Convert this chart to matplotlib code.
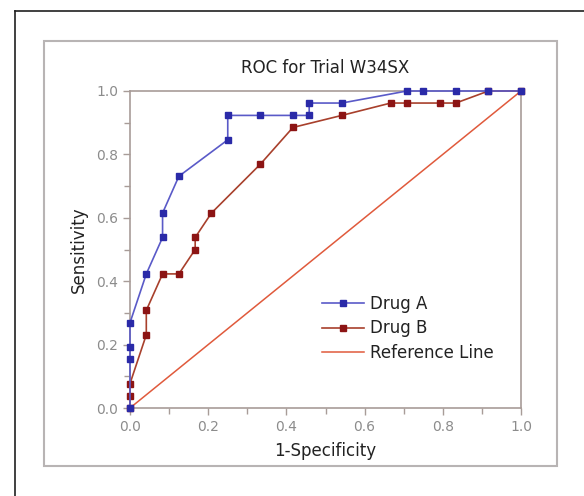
import matplotlib
matplotlib.use("Agg")
import matplotlib.pyplot as plt
from matplotlib.lines import Line2D
from matplotlib.patches import Rectangle

# ROC points (1-specificity, sensitivity)
drug_a_fpr = [0.0, 0.0, 0.0, 0.0, 0.0417, 0.0833, 0.0833, 0.125, 0.25, 0.25,
              0.3333, 0.4167, 0.4583, 0.4583, 0.5417, 0.7083, 0.75, 0.8333,
              0.9167, 1.0]
drug_a_tpr = [0.0, 0.154, 0.192, 0.269, 0.423, 0.538, 0.615, 0.731, 0.846,
              0.923, 0.923, 0.923, 0.923, 0.962, 0.962, 1.0, 1.0, 1.0, 1.0, 1.0]

drug_b_fpr = [0.0, 0.0, 0.0, 0.0417, 0.0417, 0.0833, 0.125, 0.1667, 0.1667,
              0.2083, 0.3333, 0.4167, 0.5417, 0.6667, 0.7083, 0.7917, 0.8333,
              0.9167, 1.0]
drug_b_tpr = [0.0, 0.038, 0.077, 0.231, 0.308, 0.423, 0.423, 0.5, 0.538,
              0.615, 0.769, 0.885, 0.923, 0.962, 0.962, 0.962, 0.962, 1.0, 1.0]

ref_x = [0.0, 1.0]
ref_y = [0.0, 1.0]

title = "ROC for Trial W34SX"
xlabel = "1-Specificity"
ylabel = "Sensitivity"
ticks = [0.0, 0.2, 0.4, 0.6, 0.8, 1.0]
minor_ticks = [0.1, 0.3, 0.5, 0.7, 0.9]

W, H = 584, 496
fig = plt.figure(figsize=(W / 100, H / 100), dpi=100)
fig.patch.set_facecolor("white")

# outer black frame (left and top only visible)
fig.add_artist(Line2D([14.5 / W, 14.5 / W], [0, 1 - 11 / H], color="#202020",
                      lw=1.2, transform=fig.transFigure))
fig.add_artist(Line2D([14.5 / W, 1.0], [1 - 11 / H, 1 - 11 / H], color="#202020",
                      lw=1.2, transform=fig.transFigure))

# inner grey frame
fig.add_artist(Rectangle((44 / W, 1 - 466 / H), (557 - 44) / W, (466 - 41) / H,
                         fill=False, edgecolor="#b8b4b4", lw=1.5,
                         transform=fig.transFigure))

ax = fig.add_axes([130 / W, 1 - 408 / H, (521 - 130) / W, (408 - 91) / H])

ax.plot(ref_x, ref_y, color="#e05a3c", lw=1.1, label="Reference Line",
        zorder=2)
ax.plot(drug_b_fpr, drug_b_tpr, color="#a8402c", lw=1.2, marker="s", ms=5,
        mfc="#8c1414", mec="#8c1414", label="Drug B", clip_on=False, zorder=3)
ax.plot(drug_a_fpr, drug_a_tpr, color="#5a5ac8", lw=1.2, marker="s", ms=5,
        mfc="#2a2aa8", mec="#2a2aa8", label="Drug A", clip_on=False, zorder=4)

ax.set_xlim(0, 1)
ax.set_ylim(0, 1)
ax.set_xticks(ticks)
ax.set_yticks(ticks)
ax.set_xticks(minor_ticks, minor=True)
ax.set_yticks(minor_ticks, minor=True)
ax.set_xticklabels(["%.1f" % t for t in ticks])
ax.set_yticklabels(["%.1f" % t for t in ticks])

spine_col = "#a89c98"
for s in ax.spines.values():
    s.set_color(spine_col)
    s.set_linewidth(1.2)
ax.tick_params(which="both", direction="out", color=spine_col,
               labelcolor="#8c8c8c", labelsize=10)
ax.tick_params(which="major", length=5, width=1)
ax.tick_params(which="minor", length=4, width=1)

ax.set_title(title, fontsize=12, color="#222222", pad=13)
ax.set_xlabel(xlabel, fontsize=12, color="#222222", labelpad=6)
ax.set_ylabel(ylabel, fontsize=12, color="#222222", labelpad=6)

handles, labels = ax.get_legend_handles_labels()
order = [2, 1, 0]
leg = ax.legend([handles[i] for i in order], [labels[i] for i in order],
                loc="upper left", bbox_to_anchor=(322 / W, 1 - 295 / H),
                bbox_transform=fig.transFigure, frameon=False, fontsize=12,
                handlelength=2.5, handletextpad=0.35, labelspacing=0.38,
                borderpad=0, borderaxespad=0, markerscale=0.8)
for t in leg.get_texts():
    t.set_color("#222222")

fig.savefig("out.png", dpi=100, facecolor="white")
